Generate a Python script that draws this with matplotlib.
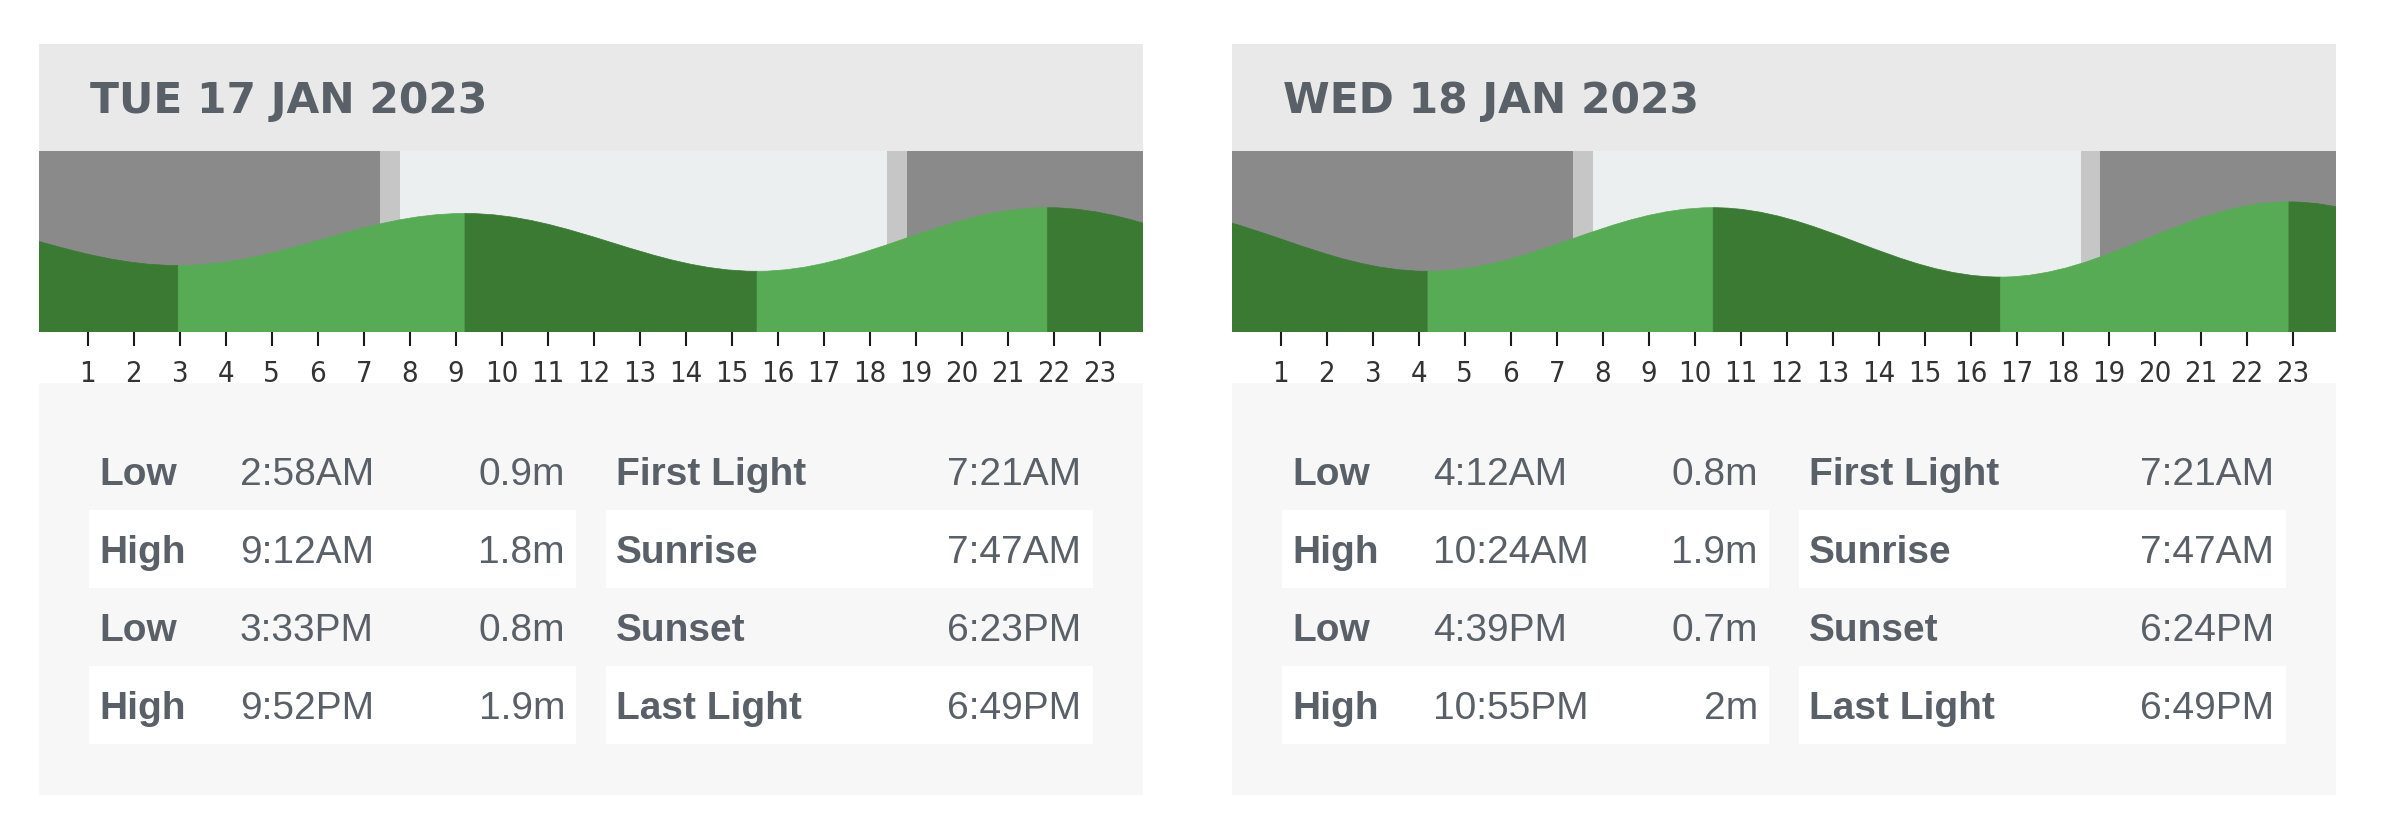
import os
import matplotlib
matplotlib.use("Agg")
import matplotlib.pyplot as plt
from matplotlib.patches import Rectangle, PathPatch
from matplotlib.path import Path
from matplotlib import font_manager
from matplotlib.font_manager import FontProperties

# --- data ---
day_titles = ["TUE 17 JAN 2023", "WED 18 JAN 2023"]
tide_kinds = [["Low", "High", "Low", "High"],
              ["Low", "High", "Low", "High"]]
tide_times = [["2:58AM", "9:12AM", "3:33PM", "9:52PM"],
              ["4:12AM", "10:24AM", "4:39PM", "10:55PM"]]
tide_heights = [[0.9, 1.8, 0.8, 1.9],
                [0.8, 1.9, 0.7, 2.0]]
tide_height_labels = [["0.9m", "1.8m", "0.8m", "1.9m"],
                      ["0.8m", "1.9m", "0.7m", "2m"]]
sun_names = ["First Light", "Sunrise", "Sunset", "Last Light"]
sun_times = [["7:21AM", "7:47AM", "6:23PM", "6:49PM"],
             ["7:21AM", "7:47AM", "6:24PM", "6:49PM"]]
# tides just outside the two days (estimated from the curve ends)
prev_high = (-3.4, 1.8)
next_low = (53.2, 0.7)
hour_ticks = list(range(1, 24))

# --- colours ---
C_NIGHT = "#8a8a8a"
C_TWI = "#c6c6c6"
C_DAY = "#eceff0"
C_FALL = "#3a7a33"
C_RISE = "#58ab55"
C_HEAD = "#e9e9e9"
C_TABLE = "#f7f7f7"
C_TEXT = "#5a6068"

W, H = 2391, 828
fig = plt.figure(figsize=(W / 100, H / 100), dpi=100)
fig.patch.set_facecolor("white")

# narrow sans font for the hour labels, if one is installed
narrow = None
for f in font_manager.fontManager.ttflist:
    fn = os.path.basename(f.fname)
    if not ("Narrow" in fn or "Condensed" in fn):
        continue
    if "Sans" not in fn or "Serif" in fn or "Mono" in fn:
        continue
    if any(w in fn for w in ("Bold", "Italic", "Oblique")):
        continue
    if narrow is None or "Liberation" in fn:
        narrow = f
if narrow is not None:
    tick_prop = FontProperties(fname=narrow.fname, size=21)
else:
    tick_prop = FontProperties(family="Liberation Sans", size=19)


def to_hours(s):
    hm, ap = s[:-2], s[-2:]
    h, m = hm.split(":")
    h = int(h) % 12
    if ap == "PM":
        h += 12
    return h + int(m) / 60.0


# full timeline over both days
ext_t = [prev_high[0]]
ext_h = [prev_high[1]]
for d in range(2):
    for t, hgt in zip(tide_times[d], tide_heights[d]):
        ext_t.append(24 * d + to_hours(t))
        ext_h.append(hgt)
ext_t.append(next_low[0])
ext_h.append(next_low[1])

YMIN, YMAX = -0.25, 2.88

# background axes in pixel coordinates
bg = fig.add_axes([0, 0, 1, 1])
bg.set_xlim(0, W)
bg.set_ylim(H, 0)
bg.axis("off")

panel_x = [39, 1232]
PW = 1104
for d, x0 in enumerate(panel_x):
    bg.add_patch(Rectangle((x0, 45), PW, 107, color=C_HEAD, lw=0))
    bg.add_patch(Rectangle((x0, 384), PW, 412, color=C_TABLE, lw=0))
    bg.text(x0 + 51, 113, day_titles[d], fontsize=30.5, fontweight="bold",
            color=C_TEXT, family="DejaVu Sans", va="baseline", ha="left")
    for r in range(4):
        top = 433 + 78 * r
        col = C_TABLE if r % 2 == 0 else "white"
        bg.add_patch(Rectangle((x0 + 50, top), 487, 78, color=col, lw=0))
        bg.add_patch(Rectangle((x0 + 567, top), 487, 78, color=col, lw=0))
        base = top + 52
        bg.text(x0 + 60, base, tide_kinds[d][r], fontsize=28, fontweight="bold",
                color=C_TEXT, family="Liberation Sans", va="baseline")
        bg.text(x0 + 201, base, tide_times[d][r], fontsize=28,
                color=C_TEXT, family="Liberation Sans", va="baseline")
        bg.text(x0 + 526, base, tide_height_labels[d][r], fontsize=28,
                color=C_TEXT, family="Liberation Sans", va="baseline", ha="right")
        bg.text(x0 + 577, base, sun_names[r], fontsize=28, fontweight="bold",
                color=C_TEXT, family="Liberation Sans", va="baseline")
        bg.text(x0 + 1042, base, sun_times[d][r], fontsize=28,
                color=C_TEXT, family="Liberation Sans", va="baseline", ha="right")

    # tide chart
    ax = fig.add_axes([x0 / W, 1 - 333 / H, PW / W, 181 / H])
    off = 24 * d
    ax.set_xlim(off - 0.06, off + 23.94)
    ax.set_ylim(YMIN, YMAX)
    for s in ax.spines.values():
        s.set_visible(False)
    ax.set_yticks([])

    fl, sr, ss, ll = [off + to_hours(t) for t in sun_times[d]]
    ax.axvspan(off - 1, fl, color=C_NIGHT, lw=0)
    ax.axvspan(fl, sr, color=C_TWI, lw=0)
    ax.axvspan(sr, ss, color=C_DAY, lw=0)
    ax.axvspan(ss, ll, color=C_TWI, lw=0)
    ax.axvspan(ll, off + 25, color=C_NIGHT, lw=0)

    for i in range(len(ext_t) - 1):
        t0, t1 = ext_t[i], ext_t[i + 1]
        h0, h1 = ext_h[i], ext_h[i + 1]
        k = 0.363 * (t1 - t0)
        verts = [(t0, YMIN), (t0, h0), (t0 + k, h0), (t1 - k, h1), (t1, h1),
                 (t1, YMIN), (t0, YMIN)]
        codes = [Path.MOVETO, Path.LINETO, Path.CURVE4, Path.CURVE4, Path.CURVE4,
                 Path.LINETO, Path.CLOSEPOLY]
        col = C_RISE if h1 > h0 else C_FALL
        ax.add_patch(PathPatch(Path(verts, codes), facecolor=col,
                               edgecolor=col, lw=0.5))

    ax.set_xticks([off + h for h in hour_ticks])
    ax.set_xticklabels([str(h) for h in hour_ticks], fontproperties=tick_prop,
                       color="#333333")
    ax.tick_params(axis="x", direction="out", length=10, width=1.5,
                   color="#1a1a1a", pad=9.5)

fig.savefig("out.png", dpi=100, facecolor="white")
